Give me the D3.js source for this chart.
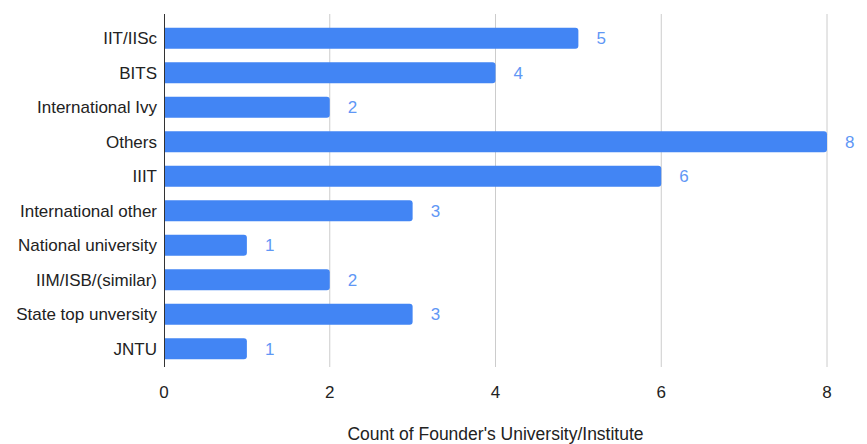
<!DOCTYPE html>
<html>
<head>
<meta charset="utf-8">
<script src="https://cdn.jsdelivr.net/npm/d3@7"></script>
<style>
  html, body { margin: 0; padding: 0; background: #fff; }
  svg { display: block; }
  text { font-family: "Liberation Sans", Arial, sans-serif; }
</style>
</head>
<body>
<svg id="chart" width="867" height="444"></svg>
<script>
const categories = ["IIT/IISc", "BITS", "International Ivy", "Others", "IIIT", "International other", "National university", "IIM/ISB/(similar)", "State top unversity", "JNTU"];
const values = [5, 4, 2, 8, 6, 3, 1, 2, 3, 1];
const xTicks = [0, 2, 4, 6, 8];
const xTitle = "Count of Founder's University/Institute";

(function () {
const svg = d3.select("#chart");
const mLeft = 164, mRight = 827, mTop = 14, mBottom = 367;
const fs = 17;

const x = d3.scaleLinear().domain([0, 8]).range([mLeft, mRight]);
const y = d3.scaleBand().domain(categories).range([21, 366]).paddingInner(0.39).paddingOuter(0.195);

// gridlines
svg.append("g").selectAll("line").data(xTicks.filter(d => d !== 0)).join("line")
  .attr("x1", d => x(d)).attr("x2", d => x(d))
  .attr("y1", mTop).attr("y2", mBottom)
  .attr("stroke", "#cccccc").attr("stroke-width", 1);

// bars with rounded right corners
const r = 3;
svg.append("g").selectAll("path").data(categories).join("path")
  .attr("fill", "#4285f4")
  .attr("d", (c, i) => {
    const x0 = x(0), x1 = x(values[i]), y0 = y(c), h = y.bandwidth();
    return `M${x0},${y0} H${x1 - r} Q${x1},${y0} ${x1},${y0 + r} V${y0 + h - r} Q${x1},${y0 + h} ${x1 - r},${y0 + h} H${x0} Z`;
  });

// value labels
svg.append("g").selectAll("text").data(categories).join("text")
  .attr("x", (c, i) => x(values[i]) + 18)
  .attr("y", c => y(c) + y.bandwidth() / 2)
  .attr("dy", "0.35em")
  .attr("fill", "#5f97f5")
  .attr("font-size", fs)
  .text((c, i) => values[i]);

// category labels
svg.append("g").selectAll("text").data(categories).join("text")
  .attr("x", mLeft - 7)
  .attr("y", c => y(c) + y.bandwidth() / 2)
  .attr("dy", "0.35em")
  .attr("text-anchor", "end")
  .attr("fill", "#222222")
  .attr("font-size", fs)
  .text(c => c);

// axis line
svg.append("line")
  .attr("x1", mLeft + 0.5).attr("x2", mLeft + 0.5)
  .attr("y1", mTop).attr("y2", mBottom)
  .attr("stroke", "#333333").attr("stroke-width", 1);

// x tick labels
svg.append("g").selectAll("text").data(xTicks).join("text")
  .attr("x", d => x(d))
  .attr("y", 392)
  .attr("dy", "0.35em")
  .attr("text-anchor", "middle")
  .attr("fill", "#222222")
  .attr("font-size", fs)
  .text(d => d);

// axis title
svg.append("text")
  .attr("x", (mLeft + mRight) / 2)
  .attr("y", 440)
  .attr("text-anchor", "middle")
  .attr("fill", "#222222")
  .attr("font-size", 17.5)
  .text(xTitle);
})();
</script>
</body>
</html>
